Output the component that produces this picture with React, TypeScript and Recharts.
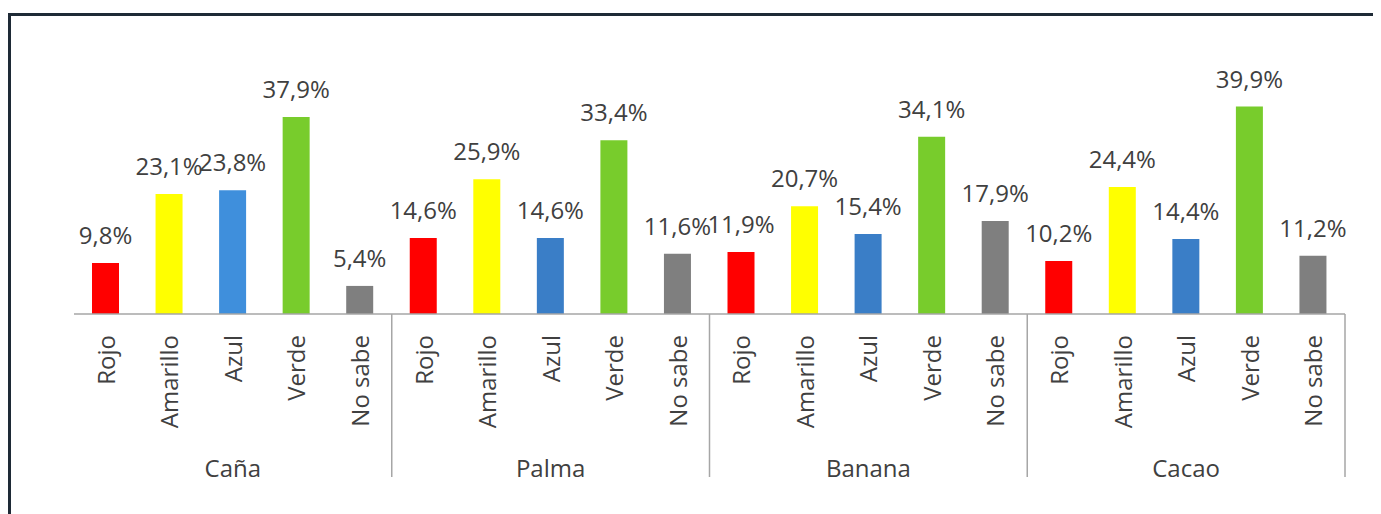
import { BarChart, Bar, XAxis, YAxis, Cell, LabelList } from 'recharts';

// Survey: which colour is associated with each crop
const GROUPS = ['Caña', 'Palma', 'Banana', 'Cacao'];
const RESPONSES = ['Rojo', 'Amarillo', 'Azul', 'Verde', 'No sabe'];

const CANA = [9.8, 23.1, 23.8, 37.9, 5.4];
const PALMA = [14.6, 25.9, 14.6, 33.4, 11.6];
const BANANA = [11.9, 20.7, 15.4, 34.1, 17.9];
const CACAO = [10.2, 24.4, 14.4, 39.9, 11.2];

const VALUES = [CANA, PALMA, BANANA, CACAO];

const RESPONSE_COLORS = ['#ff0000', '#ffff00', '#3a7ec7', '#78cc2c', '#7f7f7f'];
// the blue bar of the first group is a lighter shade
const AZUL_SHADES = ['#3f8fdc', '#3a7ec7', '#3a7ec7', '#3a7ec7'];

const data = GROUPS.flatMap((group, g) =>
    RESPONSES.map((resp, r) => ({
        name: resp,
        group,
        value: VALUES[g][r],
        color: r === 2 ? AZUL_SHADES[g] : RESPONSE_COLORS[r],
    }))
);

const CHART_W = 1370;
const CHART_H = 490;
const MARGIN = { top: 90, right: 36, bottom: 0, left: 63 };
const PLOT_W = CHART_W - MARGIN.left - MARGIN.right;
const BAND = PLOT_W / data.length;
const PER_GROUP = RESPONSES.length;

const FONT = '"Open Sans", sans-serif';
const TEXT = '#404040';
const AXIS = '#a6a6a6';

const fmt = (v: number) => `${v.toFixed(1).replace('.', ',')}%`;

const GroupedTick = (props: any) => {
    const { x, y, payload, index } = props;
    const i = payload?.index ?? index ?? 0;
    const item = data[i];
    return (
        <g>
            <text
                transform={`translate(${x + 9}, ${y + 21}) rotate(-90)`}
                textAnchor="end"
                fontSize={24}
                fontFamily={FONT}
                fill={TEXT}
            >
                {payload.value}
            </text>
            {i % PER_GROUP === 2 && (
                <text x={x} y={y + 163} textAnchor="middle" fontSize={24} fontFamily={FONT} fill={TEXT}>
                    {item.group}
                </text>
            )}
            {i % PER_GROUP === PER_GROUP - 1 && (
                <line x1={x + BAND / 2} y1={y} x2={x + BAND / 2} y2={y + 163} stroke={AXIS} strokeWidth={1.5} />
            )}
        </g>
    );
};

export default function App() {
    return (
        <div
            style={{
                marginTop: 5,
                width: 1380,
                height: 520,
                borderTop: '3px solid #1e2a36',
                borderLeft: '3px solid #1e2a36',
                background: '#fff',
            }}
        >
            <style>{'html{overflow:hidden;}'}</style>
            <BarChart width={CHART_W} height={CHART_H} data={data} margin={MARGIN} style={{ fontFamily: FONT }}>
                <XAxis
                    dataKey="name"
                    interval={0}
                    height={192}
                    tickSize={0}
                    tickMargin={0}
                    tickLine={false}
                    axisLine={{ stroke: AXIS, strokeWidth: 1.5 }}
                    tick={<GroupedTick />}
                />
                <YAxis hide domain={[0, 40]} />
                <Bar dataKey="value" barSize={27} isAnimationActive={false}>
                    {data.map((d, i) => (
                        <Cell key={`c-${i}`} fill={d.color} />
                    ))}
                    <LabelList
                        dataKey="value"
                        position="top"
                        offset={19}
                        formatter={(v: any) => fmt(Number(v))}
                        fontSize={24}
                        fontFamily={FONT}
                        fill={TEXT}
                    />
                </Bar>
            </BarChart>
        </div>
    );
}
